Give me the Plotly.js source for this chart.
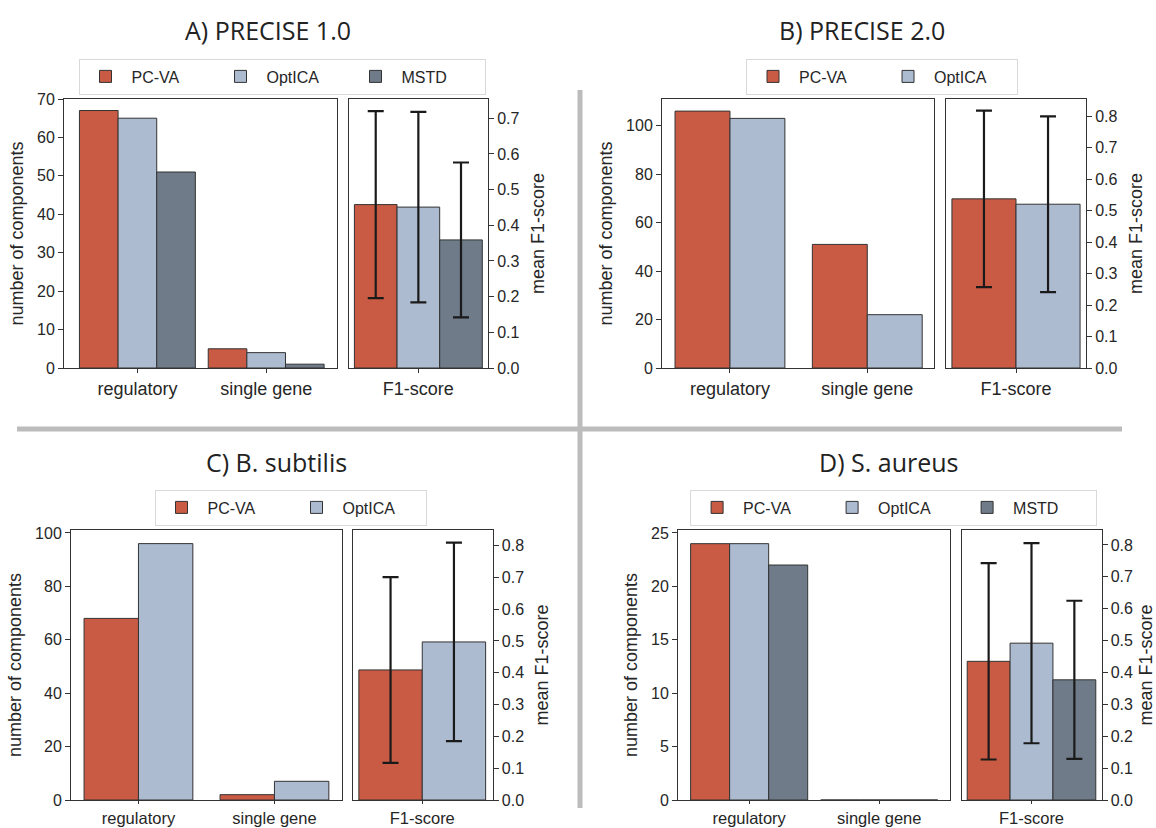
<!DOCTYPE html>
<html>
<head>
<meta charset="utf-8">
<script src="https://cdn.plot.ly/plotly-3.0.1.min.js"></script>
<style>html,body{margin:0;padding:0;background:#fff;}#chart{width:1156px;height:828px;}</style>
</head>
<body>
<div id="chart"></div>
<script>
// ---------------- data ----------------
const panelTitles = ['A) PRECISE 1.0', 'B) PRECISE 2.0', 'C) B. subtilis', 'D) S. aureus'];
const categories = ['regulatory', 'single gene'];
const f1Category = ['F1-score'];
const methods3 = ['PC-VA', 'OptICA', 'MSTD'];
const methods2 = ['PC-VA', 'OptICA'];

// A) PRECISE 1.0
const countsA_PCVA = [67, 5];
const countsA_OptICA = [65, 4];
const countsA_MSTD = [51, 1];
const f1MeanA = [0.458, 0.451, 0.359];
const f1ErrA = [0.262, 0.267, 0.217];

// B) PRECISE 2.0
const countsB_PCVA = [106, 51];
const countsB_OptICA = [103, 22];
const f1MeanB = [0.537, 0.520];
const f1ErrB = [0.280, 0.279];

// C) B. subtilis
const countsC_PCVA = [68, 2];
const countsC_OptICA = [96, 7];
const f1MeanC = [0.409, 0.497];
const f1ErrC = [0.292, 0.312];

// D) S. aureus
const countsD_PCVA = [24, 0];
const countsD_OptICA = [24, 0];
const countsD_MSTD = [22, 0];
const f1MeanD = [0.435, 0.492, 0.377];
const f1ErrD = [0.308, 0.314, 0.248];

// ---------------- styling ----------------
const methodColors = {'PC-VA': '#c95b44', 'OptICA': '#adbbd0', 'MSTD': '#6f7b89'};
const edge = '#333333';
const W = 1156, H = 828;
const px = v => v / W;
const py = v => 1 - v / H;

const panels = [
  {methods: methods3, counts: [countsA_PCVA, countsA_OptICA, countsA_MSTD], mean: f1MeanA, err: f1ErrA,
   left: [64, 337], right: [349, 488], row: 0, yMax: 70, dtick: 10, f1Max: 0.754,
   xr: [-0.57, 1.55], fr: [-0.488, 0.49], legend: [282, 76.5], title: [268, 30]},
  {methods: methods2, counts: [countsB_PCVA, countsB_OptICA], mean: f1MeanB, err: f1ErrB,
   left: [662, 934], right: [946, 1086], row: 0, yMax: 111, dtick: 20, f1Max: 0.854,
   xr: [-0.495, 1.486], fr: [-0.437, 0.437], legend: [882, 76.5], title: [862, 30]},
  {methods: methods2, counts: [countsC_PCVA, countsC_OptICA], mean: f1MeanC, err: f1ErrC,
   left: [71, 341.5], right: [353, 492.6], row: 1, yMax: 101.1, dtick: 20, f1Max: 0.849,
   xr: [-0.496, 1.493], fr: [-0.437, 0.444], legend: [290.5, 507.5], title: [276, 462]},
  {methods: methods3, counts: [countsD_PCVA, countsD_OptICA, countsD_MSTD], mean: f1MeanD, err: f1ErrD,
   left: [678, 949.6], right: [961.5, 1101.5], row: 1, yMax: 25.28, dtick: 5, f1Max: 0.847,
   xr: [-0.547, 1.541], fr: [-0.49, 0.49], legend: [893.6, 507.5], title: [889, 462]}
];
const rows = [[99, 368], [530, 800]];

const traces = [];
const layout = {
  width: W, height: H,
  margin: {l: 0, r: 0, t: 0, b: 0},
  paper_bgcolor: '#ffffff', plot_bgcolor: '#ffffff',
  barmode: 'overlay',
  font: {family: 'Liberation Sans, Arial, sans-serif', color: '#262626'},
  annotations: [], shapes: []
};

const axisCommon = {
  showline: true, mirror: true, linecolor: edge, linewidth: 1,
  showgrid: false, zeroline: false, ticks: 'outside', ticklen: 5, tickwidth: 1, tickcolor: edge,
  fixedrange: true
};

panels.forEach((p, pi) => {
  const n = p.methods.length;
  const w = n === 3 ? 0.3 : 0.4;
  const li = 2 * pi + 1, ri = 2 * pi + 2;
  const legName = pi === 0 ? 'legend' : 'legend' + (pi + 1);
  const yDom = [py(rows[p.row][1]), py(rows[p.row][0])];
  const catFont = p.row === 0 ? 18 : 16.5;
  const catLen = p.row === 0 ? 4 : 3;

  p.methods.forEach((m, i) => {
    const off = -n * w / 2 + i * w;
    traces.push({
      type: 'bar', name: m, x: categories, y: p.counts[i],
      xaxis: 'x' + li, yaxis: 'y' + li, width: w, offset: off,
      marker: {color: methodColors[m], line: {color: edge, width: 1}},
      legend: legName, legendgroup: 'p' + pi + m, showlegend: true, hoverinfo: 'x+y+name'
    });
    traces.push({
      type: 'bar', name: m, x: f1Category, y: [p.mean[i]],
      xaxis: 'x' + ri, yaxis: 'y' + ri, width: w, offset: off,
      marker: {color: methodColors[m], line: {color: edge, width: 1}},
      error_y: {type: 'data', array: [p.err[i]], visible: true, color: '#1a1a1a', thickness: 2.2, width: 8},
      legend: legName, legendgroup: 'p' + pi + m, showlegend: false, hoverinfo: 'y+name'
    });
  });

  layout['xaxis' + li] = Object.assign({}, axisCommon, {
    domain: [px(p.left[0]), px(p.left[1])], anchor: 'y' + li, type: 'category',
    range: p.xr, ticklen: catLen, tickfont: {size: catFont, color: '#262626'}
  });
  layout['yaxis' + li] = Object.assign({}, axisCommon, {
    domain: yDom, anchor: 'x' + li, range: [0, p.yMax], dtick: p.dtick, tick0: 0,
    tickfont: {size: 16, color: '#262626'},
    title: {text: 'number of components', font: {size: 18, color: '#262626'}, standoff: 8}
  });
  layout['xaxis' + ri] = Object.assign({}, axisCommon, {
    domain: [px(p.right[0]), px(p.right[1])], anchor: 'y' + ri, type: 'category',
    range: p.fr, ticklen: catLen, tickfont: {size: catFont, color: '#262626'}
  });
  layout['yaxis' + ri] = Object.assign({}, axisCommon, {
    domain: yDom, anchor: 'x' + ri, side: 'right', range: [0, p.f1Max], dtick: 0.1, tick0: 0,
    tickformat: '.1f', tickfont: {size: 16, color: '#262626'},
    title: {text: 'mean F1-score', font: {size: 18, color: '#262626'}, standoff: 12}
  });

  layout[legName] = {
    x: px(p.legend[0]), y: py(p.legend[1]), xanchor: 'center', yanchor: 'middle',
    xref: 'paper', yref: 'paper',
    orientation: 'h', bgcolor: '#ffffff', bordercolor: '#d9d9d9', borderwidth: 1,
    font: {size: 16, color: '#262626'}, traceorder: 'normal',
    itemwidth: 42, entrywidth: 78, entrywidthmode: 'pixels', itemclick: false, itemdoubleclick: false
  };

  layout.annotations.push({
    text: panelTitles[pi], xref: 'paper', yref: 'paper',
    x: px(p.title[0]), y: py(p.title[1]), xanchor: 'center', yanchor: 'middle',
    showarrow: false, font: {family: 'Open Sans, Noto Sans, sans-serif', size: 25, color: '#222222'}
  });
});

// separators between the panels
layout.shapes.push({type: 'line', xref: 'paper', yref: 'paper',
  x0: px(580), x1: px(580), y0: py(90), y1: py(808), line: {color: '#bcbcbc', width: 5}});
layout.shapes.push({type: 'line', xref: 'paper', yref: 'paper',
  x0: px(17), x1: px(1122), y0: py(429), y1: py(429), line: {color: '#bcbcbc', width: 5}});

Plotly.newPlot('chart', traces, layout, {displayModeBar: false, staticPlot: false});
</script>
</body>
</html>
